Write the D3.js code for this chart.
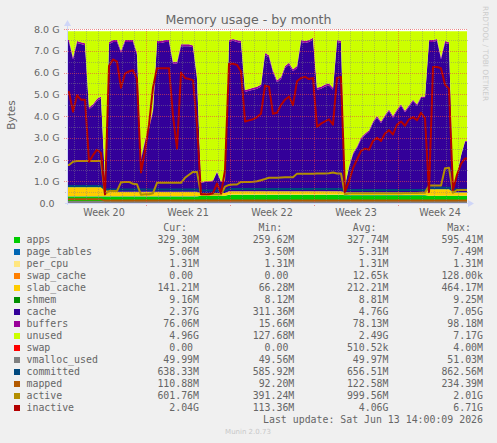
<!DOCTYPE html>
<html>
<head>
<meta charset="utf-8">
<script src="https://cdn.jsdelivr.net/npm/d3@7"></script>
<style>
  body { margin: 0; background: #f0f0f0; }
  svg text { font-family: "DejaVu Sans", sans-serif; fill: #666; }
  svg text.mono { font-family: "DejaVu Sans Mono", monospace; white-space: pre; }
</style>
</head>
<body>
<div id="chart"></div>
<script>
// time range of the month graph, one sample every 8 hours (values in GiB)
const startTime = Date.UTC(2026, 4, 11, 10);
const endTime = Date.UTC(2026, 5, 13, 18);
const stepHours = 8;

const apps = [
  0.30,0.30,0.30,0.30,0.30,0.30,0.30,0.30,0.30,0.30, 0.30,0.30,0.30,0.30,0.30,0.30,0.30,0.30,0.30,0.30,
  0.30,0.30,0.30,0.30,0.30,0.30,0.30,0.30,0.30,0.30, 0.30,0.30,0.30,0.33,0.33,0.33,0.33,0.33,0.33,0.33,
  0.38,0.38,0.38,0.38,0.38,0.38,0.38,0.38,0.38,0.38, 0.38,0.38,0.38,0.38,0.38,0.38,0.38,0.38,0.38,0.38,
  0.38,0.38,0.38,0.38,0.38,0.38,0.38,0.38,0.38,0.36, 0.36,0.36,0.36,0.36,0.36,0.36,0.36,0.36,0.36,0.36,
  0.36,0.36,0.36,0.36,0.36,0.36,0.36,0.36,0.36,0.36, 0.33,0.33,0.33,0.33,0.33,0.33,0.33,0.33,0.33,0.33
];
const pageTables = [
  0.005,0.005,0.005,0.005,0.005,0.005,0.005,0.005,0.005,0.005, 0.005,0.005,0.005,0.005,0.005,0.005,0.005,0.005,0.005,0.005,
  0.005,0.005,0.005,0.005,0.005,0.005,0.005,0.005,0.005,0.005, 0.005,0.005,0.005,0.005,0.005,0.005,0.005,0.005,0.005,0.005,
  0.005,0.005,0.005,0.005,0.005,0.005,0.005,0.005,0.005,0.005, 0.005,0.005,0.005,0.005,0.005,0.005,0.005,0.005,0.005,0.005,
  0.005,0.005,0.005,0.005,0.005,0.005,0.005,0.005,0.005,0.005, 0.005,0.005,0.005,0.005,0.005,0.005,0.005,0.005,0.005,0.005,
  0.005,0.005,0.005,0.005,0.005,0.005,0.005,0.005,0.005,0.005, 0.005,0.005,0.005,0.005,0.005,0.005,0.005,0.005,0.005,0.005
];
const perCpu = [
  0.0013,0.0013,0.0013,0.0013,0.0013,0.0013,0.0013,0.0013,0.0013,0.0013, 0.0013,0.0013,0.0013,0.0013,0.0013,0.0013,0.0013,0.0013,0.0013,0.0013,
  0.0013,0.0013,0.0013,0.0013,0.0013,0.0013,0.0013,0.0013,0.0013,0.0013, 0.0013,0.0013,0.0013,0.0013,0.0013,0.0013,0.0013,0.0013,0.0013,0.0013,
  0.0013,0.0013,0.0013,0.0013,0.0013,0.0013,0.0013,0.0013,0.0013,0.0013, 0.0013,0.0013,0.0013,0.0013,0.0013,0.0013,0.0013,0.0013,0.0013,0.0013,
  0.0013,0.0013,0.0013,0.0013,0.0013,0.0013,0.0013,0.0013,0.0013,0.0013, 0.0013,0.0013,0.0013,0.0013,0.0013,0.0013,0.0013,0.0013,0.0013,0.0013,
  0.0013,0.0013,0.0013,0.0013,0.0013,0.0013,0.0013,0.0013,0.0013,0.0013, 0.0013,0.0013,0.0013,0.0013,0.0013,0.0013,0.0013,0.0013,0.0013,0.0013
];
const swapCache = [
  0,0,0,0,0,0,0,0,0,0, 0,0,0,0,0,0,0,0,0,0, 0,0,0,0,0,0,0,0,0,0, 0,0,0,0,0,0,0,0,0,0,
  0,0,0,0,0,0,0,0,0,0, 0,0,0,0,0,0,0,0,0,0, 0,0,0,0,0,0,0,0,0,0, 0,0,0,0,0,0,0,0,0,0,
  0,0,0,0,0,0,0,0,0,0, 0,0,0,0,0,0,0,0,0,0
];
const slabCache = [
  0.42,0.42,0.42,0.42,0.42,0.42,0.42,0.42,0.42,0.40, 0.20,0.20,0.20,0.20,0.20,0.20,0.20,0.20,0.20,0.20,
  0.20,0.20,0.20,0.20,0.20,0.20,0.20,0.20,0.20,0.20, 0.20,0.20,0.20,0.12,0.12,0.12,0.12,0.12,0.12,0.12,
  0.15,0.15,0.15,0.15,0.15,0.15,0.15,0.15,0.15,0.15, 0.15,0.15,0.15,0.15,0.15,0.15,0.15,0.15,0.15,0.15,
  0.15,0.15,0.15,0.15,0.15,0.15,0.15,0.15,0.15,0.12, 0.12,0.12,0.12,0.12,0.12,0.12,0.12,0.12,0.12,0.12,
  0.12,0.12,0.12,0.12,0.12,0.12,0.12,0.12,0.12,0.12, 0.30,0.30,0.30,0.30,0.30,0.30,0.15,0.15,0.15,0.15
];
const shmem = [
  0.009,0.009,0.009,0.009,0.009,0.009,0.009,0.009,0.009,0.009, 0.009,0.009,0.009,0.009,0.009,0.009,0.009,0.009,0.009,0.009,
  0.009,0.009,0.009,0.009,0.009,0.009,0.009,0.009,0.009,0.009, 0.009,0.009,0.009,0.009,0.009,0.009,0.009,0.009,0.009,0.009,
  0.009,0.009,0.009,0.009,0.009,0.009,0.009,0.009,0.009,0.009, 0.009,0.009,0.009,0.009,0.009,0.009,0.009,0.009,0.009,0.009,
  0.009,0.009,0.009,0.009,0.009,0.009,0.009,0.009,0.009,0.009, 0.009,0.009,0.009,0.009,0.009,0.009,0.009,0.009,0.009,0.009,
  0.009,0.009,0.009,0.009,0.009,0.009,0.009,0.009,0.009,0.009, 0.009,0.009,0.009,0.009,0.009,0.009,0.009,0.009,0.009,0.009
];
const cache = [
  6.67,5.87,6.62,6.57,6.52,3.57,3.72,3.97,4.07,0.30, 6.79,6.89,6.89,6.39,6.89,6.89,6.89,6.29,1.49,2.29,
  2.89,3.69,6.84,6.84,6.89,6.89,5.89,5.89,6.69,6.69, 6.69,6.64,5.19,0.45,0.50,0.50,0.55,0.95,0.50,0.55,
  6.86,6.91,6.86,6.81,4.56,4.61,4.66,4.71,4.81,6.26, 6.16,5.46,5.01,5.16,5.66,5.81,5.51,5.66,6.86,6.81,
  6.86,6.96,4.66,4.71,4.81,4.86,4.66,6.86,6.81,0.30, 1.13,1.73,2.03,2.43,2.63,2.78,3.18,3.43,3.18,3.48,
  3.73,3.43,3.73,3.98,3.68,3.93,4.18,3.98,4.33,4.33, 6.76,6.76,6.81,5.96,6.71,6.66,0.30,0.77,1.67,2.32
];
const buffers = [
  0.09,0.09,0.09,0.09,0.09,0.09,0.09,0.09,0.09,0.05, 0.09,0.09,0.09,0.09,0.09,0.09,0.09,0.09,0.09,0.09,
  0.09,0.09,0.09,0.09,0.09,0.09,0.09,0.09,0.09,0.09, 0.09,0.09,0.09,0.03,0.03,0.03,0.03,0.03,0.03,0.03,
  0.09,0.09,0.09,0.09,0.09,0.09,0.09,0.09,0.09,0.09, 0.09,0.09,0.09,0.09,0.09,0.09,0.09,0.09,0.09,0.09,
  0.09,0.09,0.09,0.09,0.09,0.09,0.09,0.09,0.09,0.02, 0.07,0.07,0.07,0.07,0.07,0.07,0.07,0.07,0.07,0.07,
  0.07,0.07,0.07,0.07,0.07,0.07,0.07,0.07,0.07,0.07, 0.09,0.09,0.09,0.09,0.09,0.09,0.02,0.03,0.03,0.03
];
const unused = [
  0.40,1.20,0.45,0.50,0.55,3.50,3.35,3.10,3.00,6.83, 0.50,0.40,0.40,0.90,0.40,0.40,0.40,1.00,5.80,5.00,
  4.40,3.60,0.45,0.45,0.40,0.40,1.40,1.40,0.60,0.60, 0.60,0.65,2.10,6.95,6.90,6.90,6.85,6.45,6.90,6.85,
  0.40,0.35,0.40,0.45,2.70,2.65,2.60,2.55,2.45,1.00, 1.10,1.80,2.25,2.10,1.60,1.45,1.75,1.60,0.40,0.45,
  0.40,0.30,2.60,2.55,2.45,2.40,2.60,0.40,0.45,7.08, 6.20,5.60,5.30,4.90,4.70,4.55,4.15,3.90,4.15,3.85,
  3.60,3.90,3.60,3.35,3.65,3.40,3.15,3.35,3.00,3.00, 0.40,0.40,0.35,1.20,0.45,0.50,7.08,6.60,5.70,5.05
];
const swap = [
  0,0,0,0,0,0,0,0,0,0, 0,0,0,0,0,0,0,0,0,0, 0,0,0,0,0,0,0,0,0,0, 0,0,0,0,0,0,0,0,0,0,
  0,0,0,0,0,0,0,0,0,0, 0,0,0,0,0,0,0,0,0,0, 0,0,0,0,0,0,0,0,0,0, 0,0,0,0,0,0,0,0,0,0,
  0,0,0,0,0,0,0,0,0,0, 0,0,0,0,0,0,0,0,0,0
];
const vmallocUsed = [
  0.049,0.049,0.049,0.049,0.049,0.049,0.049,0.049,0.049,0.049, 0.049,0.049,0.049,0.049,0.049,0.049,0.049,0.049,0.049,0.049,
  0.049,0.049,0.049,0.049,0.049,0.049,0.049,0.049,0.049,0.049, 0.049,0.049,0.049,0.049,0.049,0.049,0.049,0.049,0.049,0.049,
  0.049,0.049,0.049,0.049,0.049,0.049,0.049,0.049,0.049,0.049, 0.049,0.049,0.049,0.049,0.049,0.049,0.049,0.049,0.049,0.049,
  0.049,0.049,0.049,0.049,0.049,0.049,0.049,0.049,0.049,0.049, 0.049,0.049,0.049,0.049,0.049,0.049,0.049,0.049,0.049,0.049,
  0.049,0.049,0.049,0.049,0.049,0.049,0.049,0.049,0.049,0.049, 0.049,0.049,0.049,0.049,0.049,0.049,0.049,0.049,0.049,0.049
];
const committed = [
  0.78,0.78,0.78,0.78,0.78,0.78,0.78,0.78,0.78,0.62, 0.62,0.62,0.62,0.62,0.62,0.62,0.62,0.62,0.62,0.62,
  0.62,0.62,0.62,0.62,0.62,0.62,0.62,0.62,0.62,0.62, 0.62,0.62,0.62,0.58,0.58,0.58,0.58,0.58,0.58,0.58,
  0.64,0.64,0.64,0.64,0.64,0.64,0.64,0.64,0.64,0.64, 0.64,0.64,0.64,0.64,0.64,0.64,0.64,0.64,0.64,0.64,
  0.64,0.64,0.64,0.64,0.64,0.64,0.64,0.64,0.64,0.60, 0.60,0.60,0.60,0.60,0.60,0.60,0.60,0.60,0.60,0.60,
  0.60,0.60,0.60,0.60,0.60,0.60,0.60,0.60,0.60,0.60, 0.70,0.70,0.70,0.70,0.70,0.70,0.62,0.62,0.62,0.62
];
const mapped = [
  0.17,0.17,0.17,0.17,0.17,0.17,0.17,0.17,0.17,0.11, 0.11,0.11,0.11,0.11,0.11,0.11,0.11,0.11,0.11,0.11,
  0.11,0.11,0.11,0.11,0.11,0.11,0.11,0.11,0.11,0.11, 0.11,0.11,0.11,0.11,0.11,0.11,0.11,0.11,0.11,0.11,
  0.11,0.11,0.11,0.11,0.11,0.11,0.11,0.11,0.11,0.11, 0.11,0.11,0.11,0.11,0.11,0.11,0.11,0.11,0.11,0.11,
  0.11,0.11,0.11,0.11,0.11,0.11,0.11,0.11,0.11,0.11, 0.11,0.11,0.11,0.11,0.11,0.11,0.11,0.11,0.11,0.11,
  0.11,0.11,0.11,0.11,0.11,0.11,0.11,0.11,0.11,0.11, 0.11,0.11,0.11,0.11,0.11,0.11,0.11,0.11,0.11,0.11
];
const active = [
  1.75,1.90,1.93,1.93,1.93,1.93,1.93,1.93,1.93,0.40, 0.55,0.55,0.55,0.95,0.97,0.97,0.88,0.86,0.38,0.40,
  0.40,0.45,0.93,0.93,0.93,0.93,0.93,0.93,0.93,1.16, 1.30,1.43,1.43,0.40,0.40,0.40,0.40,0.40,0.40,0.75,
  0.83,0.85,0.85,0.97,0.97,0.97,0.98,1.00,1.05,1.10, 1.16,1.16,1.16,1.17,1.18,1.18,1.18,1.35,1.35,1.35,
  1.35,1.35,1.36,1.36,1.36,1.37,1.40,1.36,1.36,0.40, 0.45,0.45,0.45,0.45,0.45,0.45,0.45,0.45,0.45,0.45,
  0.45,0.45,0.45,0.45,0.46,0.46,0.46,0.46,0.47,0.47, 0.80,0.80,0.80,0.80,1.60,1.62,0.47,0.60,0.60,0.60
];
const inactive = [
  5.10,4.20,4.95,4.75,4.75,1.90,2.20,2.45,2.30,0.40, 6.30,6.60,6.50,5.30,5.95,6.05,6.10,5.70,1.40,2.40,
  3.60,5.30,6.20,6.20,6.20,6.20,4.00,2.50,6.00,5.75, 5.70,5.65,3.60,0.40,0.40,0.40,0.45,0.90,0.45,1.50,
  6.40,6.40,6.35,6.05,3.75,3.80,3.85,3.95,4.10,5.40, 5.35,4.10,4.15,4.50,4.75,4.90,4.50,5.60,5.75,5.80,
  5.70,5.75,3.50,3.65,3.75,3.85,3.60,5.75,5.80,0.50, 1.00,1.60,2.00,2.40,2.50,2.45,2.85,3.00,2.85,3.20,
  3.35,3.15,3.60,3.75,3.55,3.85,3.95,3.80,4.15,3.90, 0.50,6.25,6.25,6.20,5.45,5.25,0.60,1.30,1.80,2.05
];

// legend table
const legendNames = ["apps", "page_tables", "per_cpu", "swap_cache", "slab_cache", "shmem", "cache", "buffers",
  "unused", "swap", "vmalloc_used", "committed", "mapped", "active", "inactive"];
const legendColors = ["#00CC00", "#0066B3", "#FFE680", "#FF8000", "#FFCC00", "#008F00", "#330099", "#990099",
  "#CCFF00", "#FF0000", "#808080", "#00487D", "#B35A00", "#B38F00", "#B30000"];
const legendCur = ["329.30M", "5.06M", "1.31M", "0.00 ", "141.21M", "9.16M", "2.37G", "76.06M",
  "4.96G", "0.00 ", "49.99M", "638.33M", "110.88M", "601.76M", "2.04G"];
const legendMin = ["259.62M", "3.50M", "1.31M", "0.00 ", "66.28M", "8.12M", "311.36M", "15.66M",
  "127.68M", "0.00 ", "49.56M", "585.92M", "92.20M", "391.24M", "113.36M"];
const legendAvg = ["327.74M", "5.31M", "1.31M", "12.65k", "212.21M", "8.81M", "4.76G", "78.13M",
  "2.49G", "510.52k", "49.97M", "656.51M", "122.58M", "999.56M", "4.06G"];
const legendMax = ["595.41M", "7.49M", "1.31M", "128.00k", "464.17M", "9.25M", "7.05G", "98.18M",
  "7.17G", "4.00M", "51.03M", "862.56M", "234.39M", "2.01G", "6.71G"];

const yTicks = [0, 1, 2, 3, 4, 5, 6, 7, 8];

const seriesValues = {
  apps: apps, page_tables: pageTables, per_cpu: perCpu, swap_cache: swapCache, slab_cache: slabCache,
  shmem: shmem, cache: cache, buffers: buffers, unused: unused, swap: swap,
  vmalloc_used: vmallocUsed, committed: committed, mapped: mapped, active: active, inactive: inactive
};
const stackKeys = ["apps", "page_tables", "per_cpu", "swap_cache", "slab_cache", "shmem", "cache", "buffers", "unused", "swap"];
const lineKeys = ["vmalloc_used", "committed", "mapped", "active", "inactive"];
const colorOf = {};
legendNames.forEach((n, i) => colorOf[n] = legendColors[i]);

const width = 497, height = 443;
const plot = { left: 67, right: 467, top: 29, bottom: 203 };

const svg = d3.select("#chart").append("svg")
  .attr("width", width)
  .attr("height", height)
  .style("display", "block")
  .style("background", "#f0f0f0");

const x = d3.scaleUtc().domain([startTime, endTime]).range([plot.left, plot.right]);
const y = d3.scaleLinear().domain([0, 8]).range([plot.bottom, plot.top]);

// rows: sample centres, plus the two edges of the canvas holding the first / last sample
const n = apps.length;
const rows = [];
const pushRow = (t, i) => {
  const r = { t: t };
  Object.keys(seriesValues).forEach(k => r[k] = seriesValues[k][i]);
  rows.push(r);
};
pushRow(startTime, 0);
for (let i = 0; i < n; i++) pushRow(startTime + (i + 0.5) * stepHours * 3600e3, i);
pushRow(endTime, n - 1);

// canvas
svg.append("rect")
  .attr("x", plot.left).attr("y", plot.top)
  .attr("width", plot.right - plot.left).attr("height", plot.bottom - plot.top)
  .attr("fill", "#ffffff");

const stacked = d3.stack().keys(stackKeys)(rows);
const area = d3.area()
  .x(d => x(d.data.t))
  .y0(d => y(d[0]))
  .y1(d => y(d[1]));

svg.append("g")
  .selectAll("path")
  .data(stacked)
  .join("path")
  .attr("fill", d => colorOf[d.key])
  .attr("d", area);

svg.append("g")
  .selectAll("path")
  .data(lineKeys)
  .join("path")
  .attr("fill", "none")
  .attr("stroke", k => colorOf[k])
  .attr("stroke-width", 2)
  .attr("stroke-linejoin", "round")
  .attr("d", k => d3.line().x(d => x(d.t)).y(d => y(d[k]))(rows));

// grid, drawn over the graph like rrdtool does
const minorColor = "rgba(130,130,130,0.45)";
const majorColor = "rgba(235,70,70,0.6)";
const grid = svg.append("g").attr("shape-rendering", "crispEdges");

const halfSteps = d3.range(0.5, 8, 1);
grid.selectAll(".hminor").data(halfSteps).join("line")
  .attr("x1", plot.left - 2).attr("x2", plot.right + 1)
  .attr("y1", d => Math.round(y(d)) + 0.5).attr("y2", d => Math.round(y(d)) + 0.5)
  .attr("stroke", minorColor).attr("stroke-dasharray", "1,1");

const days = d3.utcDay.range(startTime, endTime).filter(d => d.getUTCDay() !== 1);
grid.selectAll(".vminor").data(days).join("line")
  .attr("x1", d => Math.round(x(d)) + 0.5).attr("x2", d => Math.round(x(d)) + 0.5)
  .attr("y1", plot.top).attr("y2", plot.bottom + 2)
  .attr("stroke", minorColor).attr("stroke-dasharray", "1,1");

grid.selectAll(".hmajor").data(yTicks.filter(v => v > 0)).join("line")
  .attr("x1", plot.left - 3).attr("x2", plot.right + 1)
  .attr("y1", d => Math.round(y(d)) + 0.5).attr("y2", d => Math.round(y(d)) + 0.5)
  .attr("stroke", majorColor).attr("stroke-dasharray", "1,1");

const mondays = d3.utcMonday.range(startTime, endTime);
grid.selectAll(".vmajor").data(mondays).join("line")
  .attr("x1", d => Math.round(x(d)) + 0.5).attr("x2", d => Math.round(x(d)) + 0.5)
  .attr("y1", plot.top).attr("y2", plot.bottom + 3)
  .attr("stroke", majorColor).attr("stroke-dasharray", "1,1");

// axes with arrows
const axisColor = "#CFD6F8";
svg.append("line")
  .attr("x1", plot.left + 0.5).attr("x2", plot.left + 0.5)
  .attr("y1", plot.bottom + 2).attr("y2", 23)
  .attr("stroke", axisColor);
svg.append("path")
  .attr("d", `M${plot.left - 3},${26} L${plot.left + 0.5},${20} L${plot.left + 4},${26} Z`)
  .attr("fill", axisColor);
svg.append("line")
  .attr("x1", plot.left - 2).attr("x2", 470)
  .attr("y1", plot.bottom + 0.5).attr("y2", plot.bottom + 0.5)
  .attr("stroke", axisColor);
svg.append("path")
  .attr("d", `M${468},${plot.bottom - 3} L${474},${plot.bottom + 0.5} L${468},${plot.bottom + 4} Z`)
  .attr("fill", axisColor);

// y tick labels
svg.append("g")
  .selectAll("text")
  .data(yTicks)
  .join("text")
  .attr("x", d => d === 0 ? 54.5 : 59.5)
  .attr("y", d => y(d) + 3.5)
  .attr("text-anchor", "end")
  .style("font-size", "9.5px")
  .text(d => d === 0 ? "0.0" : d.toFixed(1) + " G");

// week labels, centred in each week
const weekFormat = d3.utcFormat("%V");
const weekCentres = d3.utcMonday.range(d3.utcMonday.offset(startTime, -1), endTime)
  .map(d => new Date(d.getTime() + 3.5 * 86400e3))
  .filter(d => x(d) > plot.left && x(d) < plot.right);
svg.append("g")
  .selectAll("text")
  .data(weekCentres)
  .join("text")
  .attr("x", d => x(d))
  .attr("y", 215.5)
  .attr("text-anchor", "middle")
  .style("font-size", "9.6px")
  .text(d => "Week " + +weekFormat(d));

// titles
svg.append("text")
  .attr("x", 248.5).attr("y", 24)
  .attr("text-anchor", "middle")
  .style("font-size", "12.6px")
  .text("Memory usage - by month");

svg.append("text")
  .attr("transform", "translate(15,115) rotate(-90)")
  .attr("text-anchor", "middle")
  .style("font-size", "10.5px")
  .text("Bytes");

svg.append("text")
  .attr("transform", "translate(483,6) rotate(90)")
  .style("font-size", "7.4px")
  .style("fill", "#cccccc")
  .text("RRDTOOL / TOBI OETIKER");

// legend
const legendTop = 243, rowStep = 12;
const cols = [199, 294.3, 388.5, 483];
const headers = ["Cur:", "Min:", "Avg:", "Max:"];
const legend = svg.append("g");

legend.selectAll(".hdr").data(headers).join("text")
  .attr("class", "mono")
  .attr("x", (d, i) => cols[i] - 12)
  .attr("y", 231)
  .attr("text-anchor", "end")
  .style("font-size", "9.9px")
  .text(d => d);

const legendRows = legend.selectAll(".row")
  .data(legendNames)
  .join("g")
  .attr("transform", (d, i) => `translate(0,${legendTop + i * rowStep})`);

legendRows.append("rect")
  .attr("x", 14).attr("y", -6)
  .attr("width", 6).attr("height", 6)
  .attr("fill", (d, i) => legendColors[i]);

legendRows.append("text")
  .attr("class", "mono")
  .attr("x", 26.5).attr("y", 0)
  .style("font-size", "9.9px")
  .text(d => d);

[legendCur, legendMin, legendAvg, legendMax].forEach((vals, c) => {
  legendRows.append("text")
    .attr("class", "mono")
    .attr("x", cols[c]).attr("y", 0)
    .attr("text-anchor", "end")
    .style("font-size", "9.9px")
    .text((d, i) => vals[i]);
});

svg.append("text")
  .attr("class", "mono")
  .attr("x", 483).attr("y", 423)
  .attr("text-anchor", "end")
  .style("font-size", "9.9px")
  .text("Last update: Sat Jun 13 14:00:09 2026");

svg.append("text")
  .attr("x", 248).attr("y", 434)
  .attr("text-anchor", "middle")
  .style("font-size", "7px")
  .style("fill", "#c8c8c8")
  .text("Munin 2.0.73");
</script>
</body>
</html>
